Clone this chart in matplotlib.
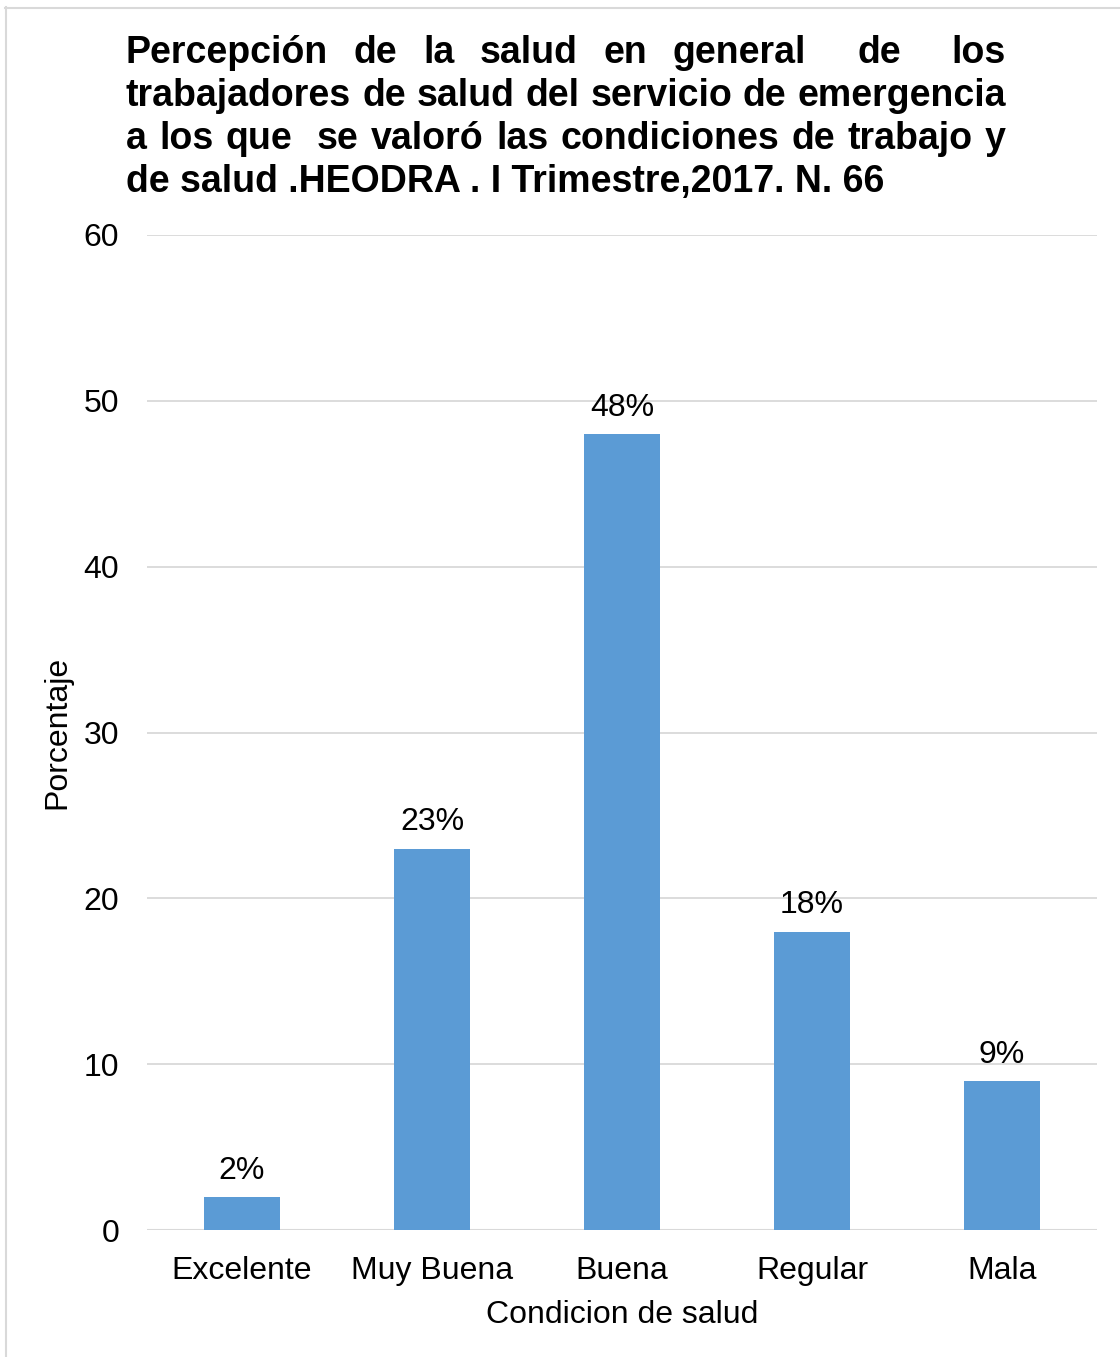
import matplotlib
matplotlib.use("Agg")
import matplotlib.pyplot as plt
from matplotlib.lines import Line2D

categories = ["Excelente", "Muy Buena", "Buena", "Regular", "Mala"]
values = [2, 23, 48, 18, 9]
labels = ["2%", "23%", "48%", "18%", "9%"]
yticks = [0, 10, 20, 30, 40, 50, 60]
title_lines = [
    "Percepción de la salud en general  de  los",
    "trabajadores de salud del servicio de emergencia",
    "a los que  se valoró las condiciones de trabajo y",
    "de salud .HEODRA . I Trimestre,2017. N. 66",
]

plt.rcParams['font.family'] = ['Liberation Sans', 'DejaVu Sans']
W, H = 1120, 1357
fig = plt.figure(figsize=(W / 100, H / 100), dpi=100)

def fx(px):
    return px / W

def fy(py):
    return 1 - py / H

FS = 23
TFS = 27

# outer border (light gray), running off right/bottom edges
fig.add_artist(Line2D([fx(5.5), fx(5.5)], [fy(7), 0], color="#d9d9d9", lw=1.5))
fig.add_artist(Line2D([fx(5), 1], [fy(7.5), fy(7.5)], color="#d9d9d9", lw=1.5))

ax = fig.add_axes([fx(147), fy(1230), fx(1097) - fx(147), fy(235) - fy(1230)])
x = list(range(len(categories)))
ax.bar(x, values, width=0.4, color="#5B9BD5", zorder=3)
ax.set_xlim(-0.5, len(categories) - 0.5)
ax.set_ylim(0, 60)
ax.set_yticks(yticks)
ax.set_yticklabels([str(t) for t in yticks], fontsize=FS)
ax.set_xticks(x)
ax.set_xticklabels(categories, fontsize=FS)
ax.tick_params(axis='both', length=0, colors='black')
ax.tick_params(axis='y', pad=20)
ax.tick_params(axis='x', pad=19)
ax.grid(axis='y', color="#d9d9d9", lw=1.3, zorder=0)
for s in ax.spines.values():
    s.set_visible(False)
ax.axhline(0, color="#d9d9d9", lw=1.5, zorder=2)
for xi, v, lab in zip(x, values, labels):
    ax.annotate(lab, (xi, v), xytext=(0, 8), textcoords="offset points",
                ha="center", va="bottom", fontsize=FS)
ax.set_xlabel("Condicion de salud", fontsize=FS, labelpad=10)
ax.set_ylabel("Porcentaje", fontsize=FS, labelpad=8)

# justified title
fig.canvas.draw()
renderer = fig.canvas.get_renderer()
left_px, right_px = 126, 1006
baselines = [63, 106, 149, 192]
for i, (line, base) in enumerate(zip(title_lines, baselines)):
    if i == len(title_lines) - 1:
        fig.text(fx(left_px), fy(base), line, fontsize=TFS, fontweight='bold',
                 ha='left', va='baseline')
        continue
    tokens = line.split(' ')
    widths = []
    arts = []
    for tok in tokens:
        t = fig.text(0, 0, tok, fontsize=TFS, fontweight='bold', ha='left', va='baseline')
        bb = t.get_window_extent(renderer)
        widths.append(bb.width if tok else 0.0)
        arts.append(t)
    gap = (right_px - left_px - sum(widths)) / (len(tokens) - 1)
    cur = left_px
    for t, w in zip(arts, widths):
        t.set_position((fx(cur), fy(base)))
        cur += w + gap

fig.savefig("out.png", dpi=100)
